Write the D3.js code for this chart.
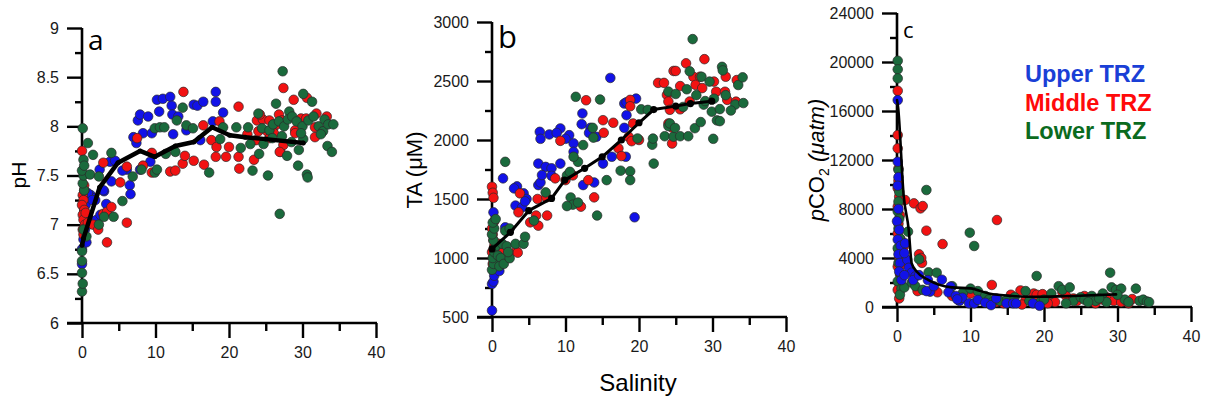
<!DOCTYPE html>
<html><head><meta charset="utf-8">
<script src="https://cdn.jsdelivr.net/npm/d3@7"></script>
<style>body{margin:0;background:#fff}svg{display:block}</style>
</head><body>
<svg id="chart" width="1211" height="407"></svg>
<script>
// ---------- DATA ----------
const xTicks = [0, 10, 20, 30, 40];
const phTicks = [6, 6.5, 7, 7.5, 8, 8.5, 9];
const taTicks = [500, 1000, 1500, 2000, 2500, 3000];
const pco2Ticks = [0, 4000, 8000, 12000, 16000, 20000, 24000];
const seriesNames = ["Upper TRZ", "Middle TRZ", "Lower TRZ"];

// Panel a: [salinity, pH]
const phUpper = [[0,6.6],[0,6.75],[0.2,6.85],[0.4,6.95],[0.6,6.82],[0.8,7.0],[1.0,7.05],[1.2,7.3],[1.5,7.27],[1.8,7.25],[0.5,7.2],[0.3,7.15],[2.0,7.05],[2.4,7.56],[3.0,7.34],[3.3,7.21],[3.8,7.64],[4.5,7.65],[4.0,7.44],[6.1,7.56],[6.5,7.40],[6.6,7.31],[7.0,7.89],[7.4,7.83],[7.6,8.06],[7.9,8.12],[8.3,7.93],[9.0,8.10],[9.5,7.93],[9.3,7.64],[7.9,7.56],[10.2,8.27],[10.5,8.15],[11.0,8.28],[12.0,8.30],[12.2,8.21],[12.3,8.12],[13.1,8.10],[12.4,7.92],[14.2,7.96],[15.2,8.22],[15.7,8.21],[16.5,8.25],[18.2,8.35],[18.2,8.25],[19.2,8.14],[17.8,8.05],[16.1,7.86],[5.5,7.55],[0.8,7.32],[1.4,7.25],[2.9,7.35],[2.5,7.1]];
const phMiddle = [[0,7.75],[0.1,7.3],[0.2,7.25],[0,7.2],[0.3,7.15],[0.1,7.1],[0.2,7.05],[0.4,7.0],[0.1,6.95],[0.3,7.35],[0.5,7.12],[0.2,6.9],[0.3,7.4],[0.8,7.02],[1.5,7.0],[2.2,6.95],[2.9,7.11],[3.4,7.13],[4.0,7.18],[3.4,6.82],[6.1,7.02],[5.2,7.43],[2.9,7.63],[6.1,7.59],[7.5,7.88],[8.3,7.60],[9.5,7.73],[9.5,7.53],[12.0,7.54],[12.7,7.55],[13.8,8.35],[13.7,7.62],[14.0,7.70],[15.2,7.65],[16.6,7.61],[16.5,8.01],[17.6,7.86],[18.3,7.79],[18.2,7.69],[18.7,8.05],[19.6,7.69],[20.0,7.79],[21.3,8.20],[21.3,7.69],[21.4,7.57],[23.4,7.66],[23.7,7.86],[22.5,7.92],[23.8,8.06],[24.6,8.07],[25.5,8.06],[24.2,8.12],[24.0,7.95],[25.2,7.95],[26.0,7.98],[26.8,8.12],[26.5,8.02],[27.2,8.06],[26.1,7.93],[25.5,7.88],[27.0,7.74],[27.4,7.81],[27.4,8.39],[28.8,8.27],[30.6,8.29],[29.0,7.96],[29.0,7.93],[29.8,8.08],[30.5,8.08],[31.9,8.13],[33.3,8.10],[31.7,7.99],[31.7,7.89],[26.9,7.74]];
const phLower = [[0,6.32],[0.1,6.40],[0,6.51],[0,6.63],[0,6.73],[0.6,6.88],[0.2,6.95],[0.3,7.35],[0.1,7.42],[0.2,7.5],[0,7.55],[0.1,7.98],[0.8,7.83],[0.2,7.66],[0.3,7.6],[1.5,7.71],[1.1,7.51],[2.3,7.49],[2.3,7.0],[3.0,7.08],[4.3,7.08],[5.5,7.24],[4.0,7.73],[6.9,7.49],[8.1,7.56],[9.9,7.98],[10.6,7.99],[11.2,7.99],[9.9,7.53],[10.2,7.56],[11.4,7.72],[12.7,7.74],[12.9,8.06],[13.7,8.19],[14.2,8.01],[15.1,7.98],[17.3,7.53],[18.8,7.87],[19.2,7.99],[21.0,7.99],[21.6,7.78],[22.6,7.99],[23.2,7.55],[24.0,8.13],[24.1,7.72],[24.7,7.82],[25.3,7.50],[26.4,8.23],[26.9,7.11],[27.3,8.56],[27.9,7.70],[28.2,8.15],[28.5,7.84],[29.4,7.60],[29.5,7.76],[30.1,8.33],[30.1,7.87],[30.6,7.51],[30.7,7.48],[31.3,8.25],[33.4,7.80],[34.0,7.74],[24.5,7.98],[25.5,7.96],[26.0,8.02],[26.8,8.05],[27.5,8.0],[28.0,8.07],[28.6,8.1],[29.2,8.05],[30.0,8.0],[30.8,8.06],[31.5,8.1],[32.2,8.0],[32.8,7.95],[33.0,8.07],[33.5,8.02],[34.2,8.02],[32.5,7.92],[29.8,7.93],[27.2,7.9],[25.9,7.88],[22.9,7.82]];
const phFit = [[0,6.79],[0.2,6.86],[2.4,7.38],[4.9,7.63],[7.9,7.75],[9.9,7.69],[12.7,7.80],[15.2,7.84],[17.7,7.99],[20.1,7.91],[22.2,7.89],[25.0,7.87],[30.1,7.83]];

// Panel b: [salinity, TA]
const taUpper = [[0,555],[0,780],[0.2,800],[0.3,850],[1.0,890],[0.6,980],[0.3,1000],[0.8,1050],[1.2,1080],[0.5,1110],[1.8,1260],[0.2,1387],[1.5,1675],[3.4,1607],[3.0,1590],[4.3,1548],[3.2,1444],[4.1,1430],[4.7,1500],[4.5,1480],[6.3,1618],[6.6,1640],[6.3,1800],[7.3,1772],[6.8,1703],[8.1,1760],[8.1,1697],[9.3,1800],[6.5,2069],[6.6,2010],[7.8,2047],[9.3,2098],[8.8,2060],[10.5,2041],[10.0,2010],[11.1,1971],[11.1,1900],[12.3,2225],[12.2,2134],[13.4,2103],[13.2,2060],[14.2,2027],[12.4,1618],[15.1,1800],[16.3,1858],[16.1,2526],[18.0,2309],[18.3,2320],[19.6,2351],[18.3,2210],[18.0,2103],[18.2,1858],[19.4,1345],[13.9,1640]];
const taMiddle = [[0,1604],[0.1,1553],[0.2,1510],[0,1250],[0.1,1200],[0.2,1150],[0.3,1100],[0,1050],[0.2,1000],[0.1,950],[0.3,1310],[0.9,1120],[1.5,1050],[3.3,1058],[3.5,1045],[3.6,1387],[5.2,1302],[6.3,1274],[6.0,1360],[7.5,1360],[3.8,1548],[6.2,1500],[7.4,1514],[8.6,1675],[9.3,1993],[12.1,1435],[13.1,1660],[13.9,1514],[12.8,2337],[15.1,2168],[15.2,2061],[16.5,2146],[17.2,1929],[17.6,1864],[18.6,2027],[18.8,2340],[18.8,2286],[19.2,2140],[20.0,2000],[19.0,1990],[22.6,2484],[23.4,2484],[23.8,2382],[24.0,2326],[24.2,2256],[24.0,2140],[24.5,2105],[24.5,1970],[24.7,2585],[25.0,2585],[25.6,2457],[25.6,2260],[26.4,2650],[26.9,2326],[27.4,2536],[27.7,2467],[28.3,2536],[28.6,2440],[28.9,2685],[30.2,2495],[30.5,2409],[31.7,2409],[31.8,2536],[32.0,2340],[33.2,2325],[33.3,2508],[10.0,1660],[11.0,1700]];
const taLower = [[0,900],[0.2,950],[0.1,1000],[0.3,1050],[0.5,1100],[0.2,1150],[0,1200],[0.3,1250],[0.1,1300],[0.5,1330],[0.8,1020],[1.2,1000],[1.0,930],[1.4,1120],[1.6,950],[2.0,1100],[2.4,998],[2.2,1050],[1.8,1230],[2.4,1250],[3.2,1120],[4.3,1120],[4.5,1180],[5.7,1317],[7.3,1556],[1.8,1815],[10.7,1513],[11.0,1452],[10.2,1440],[11.7,1470],[14.3,1360],[10.2,1700],[10.6,1730],[11.7,1815],[11.1,1858],[12.4,1957],[13.7,2103],[13.8,2020],[11.4,2366],[14.7,2343],[15.6,1660],[18.8,1735],[18.8,1660],[17.5,1740],[19.8,2013],[20.3,2260],[21.2,2255],[21.8,1960],[21.9,2012],[22.0,1800],[23.5,2032],[24.0,2118],[24.0,2410],[24.2,2140],[24.7,2028],[24.9,2102],[25.6,2032],[26.7,2032],[26.9,2582],[27.3,2855],[27.6,2100],[28.4,2152],[28.5,2536],[29.6,2495],[29.9,2240],[30.1,2010],[30.6,2166],[31.0,2262],[31.3,2620],[31.4,2590],[33.1,2300],[33.5,2466],[34.1,2531],[34.2,2313],[26.5,2430],[25.0,2390],[27.8,2380],[28.8,2300],[30.2,2350],[31.8,2380],[32.5,2250],[29.0,2330],[26.0,2280],[31.0,2160]];
const taFit = [[0,1077],[2.5,1218],[5.0,1401],[8.1,1505],[9.9,1660],[12.6,1760],[15.0,1858],[17.6,2000],[20.0,2146],[22.0,2258],[25.0,2287],[27.0,2309],[29.9,2329]];

// Panel c: [salinity, pCO2]
const pco2Upper = [[0.1,16890],[0.1,11860],[0.2,10600],[0.1,9900],[0.2,8000],[0,7000],[0.3,6300],[0.1,5500],[0.5,5000],[0.2,4300],[0.4,3600],[0.3,2900],[0.6,2200],[1.1,5200],[1.4,3840],[1.0,4400],[1.6,3200],[2.0,2800],[2.5,2500],[2.2,2200],[1.0,2600],[3.0,2600],[4.5,1250],[4.0,1300],[4.2,2200],[5.0,1700],[6.1,2230],[7.3,1660],[7.0,1200],[8.0,900],[8.5,500],[8.9,760],[9.8,300],[10.5,300],[11.0,580],[12.0,350],[12.8,150],[14.9,300],[15.8,300],[16.2,300],[18.5,300],[19.4,100],[13.5,700],[8.2,625]];
const pco2Middle = [[0.1,17650],[0.1,14035],[0.1,12950],[0.2,11300],[0.2,10300],[0.1,9700],[0.3,9000],[0.1,8200],[0.4,7500],[0.2,6800],[0.1,6000],[0.5,5500],[0.2,4700],[0.3,4000],[0.1,3300],[0.4,2700],[0.2,2000],[0.1,1400],[0.3,700],[1.1,8730],[2.3,8460],[3.2,8050],[3.5,8240],[4.0,6230],[6.2,5140],[13.6,7100],[3.0,4300],[3.4,3600],[3.3,4000],[1.0,5000],[0.8,3500],[2.8,1300],[5.5,1200],[7.5,900],[8.3,650],[12.9,1800],[10.0,1100],[11.5,800],[13.5,400],[14.5,300],[15.5,1000],[16.8,1350],[17.5,600],[18.6,1100],[19.0,1000],[19.8,1050],[21.0,800],[21.5,400],[22.5,1200],[23.0,900],[24.0,700],[24.5,500],[25.5,900],[26.0,700],[27.0,300],[28.0,600],[28.5,800],[29.5,500],[30.5,400],[31.5,300],[32.0,650],[20.5,300],[17.0,200]];
const pco2Lower = [[0.1,20100],[0.1,19400],[0.1,18660],[0.2,11200],[0.3,9400],[0.2,8600],[0.1,7800],[0.3,7200],[0.2,6400],[0.4,5600],[0.1,4800],[0.3,4300],[0.2,3600],[0.5,2700],[0.1,2100],[0.6,1500],[0.4,1000],[1.5,6150],[4.0,9550],[9.9,6065],[10.5,4980],[1.0,1600],[2.0,2000],[3.0,3900],[4.3,2830],[5.4,2800],[2.5,1700],[3.5,1400],[7.5,1700],[9.0,1200],[10.0,1500],[11.0,1300],[12.0,900],[12.5,600],[13.0,400],[14.0,500],[15.0,600],[16.0,800],[17.5,1300],[18.0,500],[19.0,2530],[19.5,400],[20.0,600],[21.0,1100],[22.0,1700],[22.5,1400],[23.5,1600],[24.0,500],[25.0,800],[25.5,600],[26.5,900],[27.0,500],[28.0,1100],[28.5,400],[29.0,2800],[29.2,1600],[29.8,1400],[30.5,1500],[31.0,600],[31.5,400],[32.5,1500],[33.0,500],[33.5,600],[34.0,450],[34.3,400],[30.0,1000],[27.5,700],[26.0,400],[23.0,300]];
const pco2Fit = [[0,16890],[0.14,16350],[0.9,9140],[1.6,6280],[2.0,3560],[2.7,2880],[4.3,2200],[7.5,1600],[10.0,1520],[12.5,1100],[15.7,900],[18.9,840],[23.9,900],[29.8,1030]];

// ---------- DRAW ----------
const colors = ["#1212e8", "#f21212", "#1a6a3c"];
const svg = d3.select("#chart");
const tickFont = "'Liberation Sans', Arial, sans-serif";

function panel(cfg) {
  const x = d3.scaleLinear().domain([0, 40]).range([cfg.x0, cfg.x1]);
  const y = d3.scaleLinear().domain([cfg.yTicks[0], cfg.yTicks[cfg.yTicks.length - 1]]).range([cfg.yb, cfg.yt]);
  const g = svg.append("g");

  const yMinor = [];
  for (let i = 0; i < cfg.yTicks.length - 1; i++) yMinor.push((cfg.yTicks[i] + cfg.yTicks[i + 1]) / 2);
  const ya = g.append("g").attr("transform", `translate(${cfg.x0},0)`)
    .call(d3.axisLeft(y).tickValues(cfg.yTicks).tickSize(15).tickSizeOuter(0).tickPadding(8).tickFormat(cfg.yFmt));
  const yaMin = g.append("g").attr("transform", `translate(${cfg.x0},0)`)
    .call(d3.axisLeft(y).tickValues(yMinor).tickSize(7).tickSizeOuter(0).tickFormat(""));
  const xMinor = [5, 15, 25, 35];
  const xa = g.append("g").attr("transform", `translate(0,${cfg.yb})`)
    .call(d3.axisBottom(x).tickValues(xTicks).tickSize(15).tickSizeOuter(0).tickPadding(9));
  const xaMin = g.append("g").attr("transform", `translate(0,${cfg.yb})`)
    .call(d3.axisBottom(x).tickValues(xMinor).tickSize(8).tickSizeOuter(0).tickFormat(""));
  [ya, yaMin, xa, xaMin].forEach(a => {
    a.select(".domain").remove();
    a.selectAll("line").attr("stroke", "#000").attr("stroke-width", 2.4);
    a.selectAll("text").attr("font-family", tickFont).attr("font-size", 16).attr("fill", "#1a1a1a");
  });
  g.append("line").attr("x1", cfg.x0).attr("x2", cfg.x0).attr("y1", y.range()[1]).attr("y2", cfg.yb)
    .attr("stroke", "#000").attr("stroke-width", 2.6);
  g.append("line").attr("x1", cfg.x0 - 15).attr("x2", cfg.x1 + 1).attr("y1", cfg.yb).attr("y2", cfg.yb)
    .attr("stroke", "#000").attr("stroke-width", 2.6);

  const order = cfg.order || [0, 1, 2];
  order.forEach(i => {
    g.append("g").selectAll("circle").data(cfg.series[i]).join("circle")
      .attr("cx", d => x(d[0])).attr("cy", d => y(d[1])).attr("r", 4.8)
      .attr("fill", colors[i]).attr("stroke", "#2a2a2a").attr("stroke-width", 0.7);
  });

  const line = d3.line().x(d => x(d[0])).y(d => y(d[1])).curve(cfg.curve || d3.curveLinear);
  g.append("path").datum(cfg.fit).attr("d", line).attr("fill", "none")
    .attr("stroke", "#000").attr("stroke-width", cfg.lw).attr("stroke-linejoin", "round").attr("stroke-linecap", "round");
  if (cfg.markers) {
    g.append("g").selectAll("circle").data(cfg.fit).join("circle")
      .attr("cx", d => x(d[0])).attr("cy", d => y(d[1])).attr("r", cfg.markers).attr("fill", "#000");
  }

  g.append("text").attr("x", cfg.letterX).attr("y", cfg.letterY).text(cfg.letter)
    .attr("font-family", "'Open Sans', sans-serif").attr("font-size", cfg.letterSize).attr("fill", "#000");
  return { g, x, y };
}

panel({ x0: 82, x1: 376, yb: 323, yt: 28, yTicks: phTicks, yFmt: d3.format(""),
  series: [phUpper, phMiddle, phLower], fit: phFit, lw: 4.5, markers: 2.5,
  letter: "a", letterX: 88, letterY: 50, letterSize: 28 });
panel({ x0: 492, x1: 786, yb: 317, yt: 22, yTicks: taTicks, yFmt: d3.format("d"),
  series: [taUpper, taMiddle, taLower], fit: taFit, lw: 3, markers: 3.6,
  letter: "b", letterX: 498, letterY: 48, letterSize: 31 });
panel({ x0: 897, x1: 1191, yb: 307, yt: 13, yTicks: pco2Ticks, yFmt: d3.format("d"),
  series: [pco2Upper, pco2Middle, pco2Lower], order: [1, 2, 0], fit: pco2Fit, lw: 2.6, markers: 0, curve: d3.curveMonotoneX,
  letter: "c", letterX: 903, letterY: 38, letterSize: 22 });

const lab = "'Liberation Sans', Arial, sans-serif";
svg.append("text").attr("transform", "translate(26,175) rotate(-90)").attr("text-anchor", "middle")
  .attr("font-family", lab).attr("font-size", 21).text("pH");
svg.append("text").attr("transform", "translate(422,170) rotate(-90)").attr("text-anchor", "middle")
  .attr("font-family", lab).attr("font-size", 22).text("TA (μM)");
const tc = svg.append("text").attr("transform", "translate(824,160) rotate(-90)").attr("text-anchor", "middle")
  .attr("font-family", lab).attr("font-size", 22);
tc.append("tspan").attr("font-style", "italic").text("p");
tc.append("tspan").text("CO");
tc.append("tspan").attr("font-size", 14).attr("dy", 5).text("2");
tc.append("tspan").attr("dy", -5).attr("font-style", "italic").text(" (μatm)");
svg.append("text").attr("x", 638).attr("y", 391).attr("text-anchor", "middle")
  .attr("font-family", lab).attr("font-size", 24).text("Salinity");

const legColors = ["#1a3fd6", "#ff0a0a", "#0b6b1e"];
seriesNames.forEach((n, i) => {
  svg.append("text").attr("x", 1025).attr("y", 82 + i * 28.5).text(n)
    .attr("font-family", lab).attr("font-weight", "bold").attr("font-size", 23.5).attr("fill", legColors[i]);
});
</script>
</body></html>
